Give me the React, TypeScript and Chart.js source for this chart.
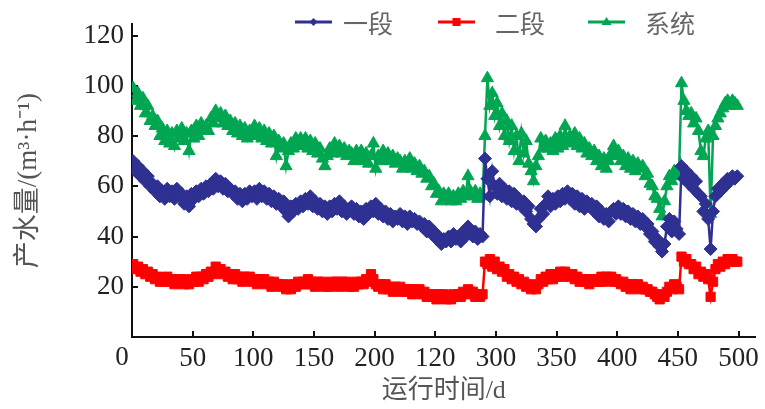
import React, { useEffect, useRef } from 'react';
import { Chart, registerables } from 'chart.js';

Chart.register(...registerables);

// Operating day of each sample
const days = [
  1, 3, 5, 7, 9, 11, 13, 15, 17, 19,
  21, 23, 25, 27, 29, 31, 33, 35, 37, 39,
  41, 43, 45, 47, 49, 51, 53, 55, 57, 59,
  61, 63, 65, 67, 69, 71, 73, 75, 77, 79,
  81, 83, 85, 87, 89, 91, 93, 95, 97, 99,
  101, 103, 105, 107, 109, 111, 113, 115, 117, 119,
  121, 123, 125, 127, 129, 131, 133, 135, 137, 139,
  141, 143, 145, 147, 149, 151, 153, 155, 157, 159,
  161, 163, 165, 167, 169, 171, 173, 175, 177, 179,
  181, 183, 185, 187, 189, 191, 193, 195, 197, 199,
  201, 203, 205, 207, 209, 211, 213, 215, 217, 219,
  221, 223, 225, 227, 229, 231, 233, 235, 237, 239,
  241, 243, 245, 247, 249, 251, 253, 255, 257, 259,
  261, 263, 265, 267, 269, 271, 273, 275, 277, 279,
  281, 283, 285, 287, 289, 291, 293, 295, 297, 299,
  301, 303, 305, 307, 309, 311, 313, 315, 317, 319,
  321, 323, 325, 327, 329, 331, 333, 335, 337, 339,
  341, 343, 345, 347, 349, 351, 353, 355, 357, 359,
  361, 363, 365, 367, 369, 371, 373, 375, 377, 379,
  381, 383, 385, 387, 389, 391, 393, 395, 397, 399,
  401, 403, 405, 407, 409, 411, 413, 415, 417, 419,
  421, 423, 425, 427, 429, 431, 433, 435, 437, 439,
  441, 443, 445, 447, 449, 451, 453, 455, 457, 459,
  461, 463, 465, 467, 469, 471, 473, 475, 477, 479,
  481, 483, 485, 487, 489, 491, 493, 495, 497, 499,
];

// 一段
const stage1 = [
  70, 66, 68, 64, 66, 62, 64, 60, 61, 58,
  60, 56, 58, 55, 59, 56, 58, 55, 59, 56,
  57, 53, 56, 52, 57, 55, 58, 56, 59, 57,
  60, 58, 61, 59, 63, 60, 62, 59, 61, 58,
  59, 57, 58, 55, 57, 54, 57, 55, 58, 56,
  58, 55, 59, 56, 58, 55, 57, 54, 56, 53,
  55, 52, 54, 50, 48, 52, 50, 53, 51, 54,
  52, 55, 53, 56, 52, 54, 51, 53, 50, 52,
  49, 52, 50, 53, 51, 54, 50, 52, 49, 51,
  52, 49, 51, 48, 50, 47, 51, 49, 52, 50,
  53, 49, 51, 48, 50, 47, 49, 46, 48, 47,
  49, 46, 48, 45, 48, 46, 47, 45, 46, 44,
  45, 42, 44, 41, 42, 39, 40, 37, 39, 38,
  40, 38, 41, 39, 40, 38, 42, 40, 44, 41,
  40, 42, 39, 41, 40, 71, 63, 56, 66, 60,
  57, 61, 56, 59, 55, 58, 54, 57, 53, 55,
  52, 54, 50, 52, 47, 45, 44, 47, 51, 49,
  53, 56, 52, 55, 53, 56, 54, 57, 55, 58,
  55, 57, 53, 56, 52, 55, 51, 54, 52, 53,
  50, 52, 48, 50, 47, 49, 46, 50, 51, 49,
  52, 49, 51, 48, 50, 47, 49, 46, 48, 45,
  47, 44, 45, 41, 42, 38, 39, 36, 34, 37,
  44, 47, 42, 46, 43, 41, 68, 63, 66, 61,
  64, 59, 62, 57, 56, 50, 53, 47, 35, 50,
  56, 59, 58, 61, 60, 63, 62, 64, 63, 64,
];

// 二段
const stage2 = [
  29, 27, 28, 26, 27, 25, 26, 24, 25, 23,
  24, 22, 23, 22, 24, 22, 23, 21, 23, 22,
  23, 21, 22, 21, 23, 22, 24, 22, 24, 23,
  25, 24, 26, 25, 28, 26, 27, 25, 26, 24,
  25, 23, 25, 23, 24, 22, 24, 23, 24, 22,
  23, 21, 23, 22, 23, 21, 22, 20, 22, 21,
  21, 20, 21, 19, 20, 19, 21, 20, 22, 21,
  22, 21, 23, 21, 22, 20, 22, 21, 22, 20,
  21, 20, 22, 21, 22, 20, 22, 21, 22, 20,
  21, 20, 22, 21, 22, 21, 23, 22, 25, 23,
  21, 20, 21, 19, 21, 19, 20, 18, 20, 19,
  20, 18, 19, 18, 19, 17, 19, 18, 19, 17,
  18, 16, 17, 16, 17, 15, 17, 16, 17, 15,
  16, 15, 17, 16, 17, 16, 18, 17, 19, 18,
  18, 16, 17, 16, 17, 30, 29, 31, 28, 30,
  27, 28, 26, 27, 24, 25, 23, 24, 22, 23,
  21, 22, 20, 21, 19, 20, 19, 21, 23, 22,
  24, 23, 25, 23, 25, 24, 26, 24, 26, 25,
  24, 25, 23, 24, 22, 23, 22, 23, 21, 23,
  22, 23, 22, 24, 22, 24, 23, 24, 22, 23,
  22, 21, 22, 20, 21, 19, 21, 20, 21, 19,
  20, 19, 19, 18, 18, 17, 16, 15, 17, 16,
  18, 20, 19, 21, 20, 19, 32, 30, 31, 29,
  29, 27, 28, 25, 26, 24, 25, 23, 16, 22,
  27, 29, 28, 30, 29, 31, 30, 31, 30, 30,
];

// 系统
const system = [
  99, 94, 97, 92, 95, 89, 92, 86, 88, 84,
  86, 80, 83, 78, 82, 77, 81, 76, 82, 79,
  83, 78, 81, 74, 82, 79, 84, 80, 85, 82,
  84, 82, 87, 85, 90, 87, 89, 85, 88, 84,
  86, 82, 85, 81, 84, 80, 83, 79, 82, 80,
  84, 80, 83, 79, 82, 78, 81, 77, 80, 72,
  78, 75, 77, 68, 74, 77, 75, 79, 76, 79,
  76, 79, 75, 78, 74, 77, 73, 75, 71, 68,
  72, 75, 73, 77, 74, 76, 73, 75, 72, 74,
  73, 70, 74, 71, 74, 70, 73, 69, 72, 77,
  67, 72, 70, 74, 71, 73, 70, 72, 69, 71,
  70, 67, 70, 68, 71, 67, 69, 66, 68, 65,
  66, 63, 64, 60, 61, 57, 58, 54, 57, 55,
  57, 54, 56, 54, 57, 55, 58, 56, 64, 58,
  56, 58, 55, 57, 56, 80, 103, 92, 97, 88,
  93, 84, 89, 80, 86, 78, 84, 74, 80, 70,
  81, 73, 78, 69, 66, 62, 68, 72, 79, 75,
  78, 75, 77, 74, 79, 75, 80, 76, 84, 78,
  80, 77, 81, 76, 79, 75, 77, 73, 75, 72,
  74, 70, 72, 68, 71, 67, 70, 73, 76, 72,
  74, 70, 72, 68, 71, 67, 70, 66, 69, 67,
  68, 64, 65, 61, 60, 56, 55, 51, 48, 54,
  60, 64, 62, 66, 64, 66, 101, 94, 90, 88,
  89, 85, 87, 82, 74, 72, 79, 82, 49, 80,
  84, 87, 89, 91, 93, 94, 92, 94, 93, 92,
];

const seriesNames = ['一段', '二段', '系统'];
const seriesColors = ['#2E3192', '#FF0000', '#00A651'];
const seriesMarkers = ['rectRot', 'rect', 'triangle'];
const seriesRadius = [6.5, 6.5, 7];

const yTickValues = [0, 20, 40, 60, 80, 100, 120];
const xTickValues = [0, 50, 100, 150, 200, 250, 300, 350, 400, 450, 500];
const xTickLabels = ['0', '50', '100', '150', '200', '120', '300', '350', '400', '450', '500'];
const cornerLabel = '0';

const xTitle = '运行时间/d';
const yTitle = '产水量/(m³·h⁻¹)';

const FONT = '"Liberation Serif", "Noto Sans CJK SC", serif';

const decor = {
  id: 'decor',
  beforeDatasetsDraw(chart: any) {
    const { ctx, chartArea, scales } = chart;
    ctx.save();
    ctx.strokeStyle = '#111';
    ctx.lineWidth = 2;
    ctx.beginPath();
    yTickValues.forEach((v) => {
      if (v === 0) return;
      const py = Math.round(scales.y.getPixelForValue(v));
      ctx.moveTo(chartArea.left, py);
      ctx.lineTo(chartArea.left + 6, py);
    });
    xTickValues.forEach((v) => {
      if (v === 0) return;
      const px = Math.round(scales.x.getPixelForValue(v));
      ctx.moveTo(px, chartArea.bottom);
      ctx.lineTo(px, chartArea.bottom - 6);
    });
    ctx.stroke();
    ctx.restore();
  },
  afterDraw(chart: any) {
    const { ctx } = chart;
    ctx.save();
    ctx.font = '27px ' + FONT;
    ctx.fillStyle = '#222';
    ctx.textAlign = 'center';
    ctx.textBaseline = 'middle';
    ctx.fillText(cornerLabel, 122, 358);

    // legend
    const items = [
      { x0: 295, tx: 343 },
      { x0: 438, tx: 495 },
      { x0: 588, tx: 645 },
    ];
    const ly = 22;
    items.forEach((it, i) => {
      const c = seriesColors[i];
      ctx.strokeStyle = c;
      ctx.fillStyle = c;
      ctx.lineWidth = 3;
      ctx.beginPath();
      ctx.moveTo(it.x0, ly);
      ctx.lineTo(it.x0 + 37, ly);
      ctx.stroke();
      const cx = it.x0 + 18.5;
      ctx.beginPath();
      if (i === 0) {
        ctx.moveTo(cx, ly - 4);
        ctx.lineTo(cx + 4, ly);
        ctx.lineTo(cx, ly + 4);
        ctx.lineTo(cx - 4, ly);
        ctx.closePath();
      } else if (i === 1) {
        ctx.rect(cx - 4, ly - 4, 8, 8);
      } else {
        ctx.moveTo(cx, ly - 5);
        ctx.lineTo(cx + 5, ly + 3);
        ctx.lineTo(cx - 5, ly + 3);
        ctx.closePath();
      }
      ctx.fill();
      ctx.font = '25px "Noto Sans CJK SC", sans-serif';
      ctx.fillStyle = '#666';
      ctx.textAlign = 'left';
      ctx.textBaseline = 'middle';
      ctx.fillText(seriesNames[i], it.tx, ly + 1);
    });
    ctx.restore();
  },
};

export default function App() {
  const ref = useRef<HTMLCanvasElement | null>(null);

  useEffect(() => {
    if (!ref.current) return;
    const all = [stage1, stage2, system];
    const chart = new Chart(ref.current, {
      type: 'line',
      data: {
        datasets: all.map((arr, i) => ({
          label: seriesNames[i],
          data: days.map((d, j) => ({ x: d, y: arr[j] })),
          borderColor: seriesColors[i],
          backgroundColor: seriesColors[i],
          borderWidth: 2.5,
          pointStyle: seriesMarkers[i] as any,
          pointRadius: seriesRadius[i],
          pointBorderWidth: 1,
          pointBackgroundColor: seriesColors[i],
          pointBorderColor: seriesColors[i],
          tension: 0,
          fill: false,
        })),
      },
      options: {
        animation: false,
        responsive: false,
        maintainAspectRatio: false,
        layout: { padding: { left: 0, right: 9, top: 20, bottom: 0 } },
        plugins: {
          legend: { display: false },
          tooltip: { enabled: false },
        },
        scales: {
          x: {
            type: 'linear',
            min: 0,
            max: 514,
            afterBuildTicks: (s: any) => {
              s.ticks = xTickValues.map((v) => ({ value: v }));
            },
            afterFit: (s: any) => {
              s.height = 72;
            },
            grid: { display: false, drawTicks: false },
            border: { display: true, color: '#111', width: 2 },
            ticks: {
              padding: 6,
              maxRotation: 0,
              autoSkip: false,
              color: '#222',
              font: { family: FONT, size: 27 },
              callback: (v: any) => {
                const k = xTickValues.indexOf(Number(v));
                if (k <= 0) return '';
                return xTickLabels[k];
              },
            },
            title: {
              display: true,
              text: xTitle,
              color: '#555',
              font: { family: FONT, size: 26 },
              padding: { top: 0, bottom: 2 },
            },
          },
          y: {
            type: 'linear',
            min: 0,
            max: 124.5,
            afterBuildTicks: (s: any) => {
              s.ticks = yTickValues.map((v) => ({ value: v }));
            },
            afterFit: (s: any) => {
              s.width = 132;
            },
            grid: { display: false, drawTicks: false },
            border: { display: true, color: '#111', width: 2 },
            ticks: {
              padding: 8,
              color: '#222',
              font: { family: FONT, size: 27 },
              callback: (v: any) => (Number(v) === 0 ? '' : String(v)),
            },
            title: {
              display: true,
              text: yTitle,
              color: '#555',
              font: { family: FONT, size: 27 },
              padding: { top: 13, bottom: 0 },
            },
          },
        },
      },
      plugins: [decor],
    });
    return () => chart.destroy();
  }, []);

  return (
    <div style={{ position: 'fixed', left: 0, top: 0, width: 765, height: 409, background: '#fff' }}>
      <canvas ref={ref} width={765} height={409} style={{ display: 'block', width: 765, height: 409 }} />
    </div>
  );
}
